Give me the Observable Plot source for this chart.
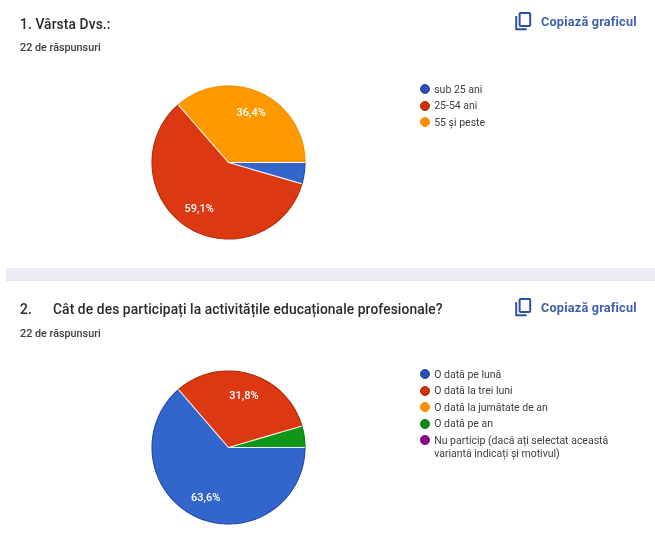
<!DOCTYPE html>
<html lang="ro">
<head>
<meta charset="utf-8">
<script src="https://cdn.jsdelivr.net/npm/d3@7"></script>
<script src="https://cdn.jsdelivr.net/npm/@observablehq/plot@0.6"></script>
<style>
html,body{margin:0;padding:0;background:#fff;}
#page{position:relative;width:655px;height:546px;overflow:hidden;font-family:Roboto,sans-serif;color:#202124;filter:blur(.5px);}
.abs{position:absolute;white-space:nowrap;}
.title{font-size:13.8px;line-height:16px;letter-spacing:.1px;font-weight:500;color:#2a2a2e;}
.sub{font-size:10.8px;line-height:12px;font-weight:500;color:#3c4043;}
.copy{font-size:12.7px;line-height:14px;font-weight:700;color:#3f5fa8;letter-spacing:.2px;}
.leg{font-size:10.5px;line-height:13px;color:#3c4043;}
.swatch{position:absolute;width:8px;height:8px;border-radius:50%;border-width:1px;border-style:solid;}
#band{position:absolute;left:6px;top:268px;width:649px;height:12px;background:#ecebf6;border-bottom:1px solid #e3e2ea;}
</style>
</head>
<body>
<div id="page"><div id="band"></div></div>
<script>
const title1 = "1. Vârsta Dvs.:";
const number2 = "2.";
const title2 = "Cât de des participați la activitățile educaționale profesionale?";
const responses = "22 de răspunsuri";
const copyLabel = "Copiază graficul";

const categories1 = ["sub 25 ani", "25-54 ani", "55 și peste"];
const values1 = [4.5, 59.1, 36.4];
const colors1 = ["#3366cc", "#dc3912", "#ff9900"];
const rims1 = ["#1f48a8", "#b02a08", "#ee8e00"];
const swatch1 = ["#2a50b8", "#cc3208", "#ff9000"];

const categories2 = ["O dată pe lună", "O dată la trei luni", "O dată la jumătate de an", "O dată pe an", "Nu particip (dacă ați selectat această\nvariantă indicați și motivul)"];
const values2 = [63.6, 31.8, 0, 4.5, 0];
const colors2 = ["#3366cc", "#dc3912", "#ff9900", "#109618", "#990099"];
const rims2 = ["#1f48a8", "#b02a08", "#ee8e00", "#0b7a10", "#7a007a"];
const swatch2 = ["#2a50b8", "#cc3208", "#ff9000", "#0f8a14", "#8a008a"];

const page = document.getElementById("page");
function add(cls, left, top, text, extra) {
  const d = document.createElement("div");
  d.className = "abs " + cls;
  d.style.left = left + "px";
  d.style.top = top + "px";
  d.textContent = text;
  if (extra) Object.assign(d.style, extra);
  page.appendChild(d);
  return d;
}
function copyIcon(left, top) {
  const ns = "http://www.w3.org/2000/svg";
  const s = document.createElementNS(ns, "svg");
  s.setAttribute("width", 17); s.setAttribute("height", 19);
  s.style.cssText = `position:absolute;left:${left}px;top:${top}px`;
  s.innerHTML = `<path d="M1.2 4v13.2h10.5" fill="none" stroke="#2b4fa6" stroke-width="1.9"/><rect x="4.6" y="1" width="10.6" height="13" rx="1" fill="none" stroke="#2b4fa6" stroke-width="2"/>`;
  page.appendChild(s);
}

// Angles are clockwise from 12 o'clock; slices start at 3 o'clock.
const START = 90;
const toLon = a => 180 - a;
const step = 2;
function arcPoints(a0, a1) {
  const pts = d3.range(a0, a1, step).concat([a1]);
  return pts.map(a => [toLon(a), 0]);
}
function slices(categories, values, colors, rims) {
  const total = d3.sum(values);
  let acc = START;
  return categories.map((category, i) => {
    const span = values[i] / total * 360;
    const a0 = acc, a1 = acc + span;
    acc = a1;
    return {category, value: values[i], rim: rims[i], a0, a1, mid: (a0 + a1) / 2};
  }).filter(d => d.value > 0);
}
function pie(categories, values, colors, rims, left, top) {
  const data = slices(categories, values, colors, rims);
  const polys = data.map(d => ({
    ...d,
    type: "Feature",
    geometry: {type: "Polygon", coordinates: [[[toLon(d.a0), 90], ...arcPoints(d.a0, d.a1), [toLon(d.a0), 90]]]}
  }));
  const rimsGeo = data.map(d => ({...d, type: "Feature", geometry: {type: "LineString", coordinates: arcPoints(d.a0, d.a1)}}));
  const spokes = data.map(d => ({...d, type: "Feature", geometry: {type: "LineString", coordinates: [[toLon(d.a0), 89.99], [toLon(d.a0), 0.6]]}}));
  const fmt = v => v.toFixed(1).replace(".", ",") + "%";
  const chart = Plot.plot({
    width: 160, height: 160, margin: 3.5,
    style: {background: "transparent", fontFamily: "Roboto, sans-serif"},
    projection: {type: "azimuthal-equidistant", rotate: [0, -90], domain: d3.geoCircle().center([0, 90]).radius(90)()},
    color: {domain: categories, range: colors},
    marks: [
      Plot.geo(polys, {fill: d => d.category, stroke: null}),
      Plot.geo(rimsGeo, {stroke: {value: d => d.rim, scale: null}, strokeWidth: 1.1, fill: "none"}),
      Plot.geo(spokes, {stroke: "#fff", strokeOpacity: .9, strokeWidth: 1.1, fill: "none"}),
      Plot.text(data.filter(d => d.value >= 5), {
        x: d => toLon(d.mid), y: () => 90 * (1 - 55 / 77),
        text: d => fmt(d.value), fill: "#fff", fontSize: 11, fontWeight: 500,
        stroke: "none"
      })
    ]
  });
  chart.style.position = "absolute";
  chart.style.left = left + "px";
  chart.style.top = top + "px";
  page.appendChild(chart);
}
function legend(categories, swatches, rims, x, y0, gap) {
  let y = y0;
  categories.forEach((c, i) => {
    const s = document.createElement("div");
    s.className = "swatch";
    Object.assign(s.style, {left: (x - 5) + "px", top: (y - 5) + "px", background: swatches[i], borderColor: rims[i]});
    page.appendChild(s);
    const lines = c.split("\n");
    lines.forEach((t, j) => add("leg", x + 9.5, y - 6.5 + j * 13.4, t));
    y += gap;
  });
}

add("title", 20, 16, title1);
add("sub", 20, 42, responses);
copyIcon(515, 12);
add("copy", 541, 15, copyLabel);
pie(categories1, values1, colors1, rims1, 148, 82);
legend(categories1, swatch1, rims1, 424.7, 89, 16.5);

add("title", 20, 301, number2);
add("title", 53, 301, title2);
add("sub", 20, 328, responses);
copyIcon(515, 298);
add("copy", 541, 301, copyLabel);
pie(categories2, values2, colors2, rims2, 148, 367);
legend(categories2, swatch2, rims2, 424.7, 374, 16.5);
</script>
</body>
</html>
